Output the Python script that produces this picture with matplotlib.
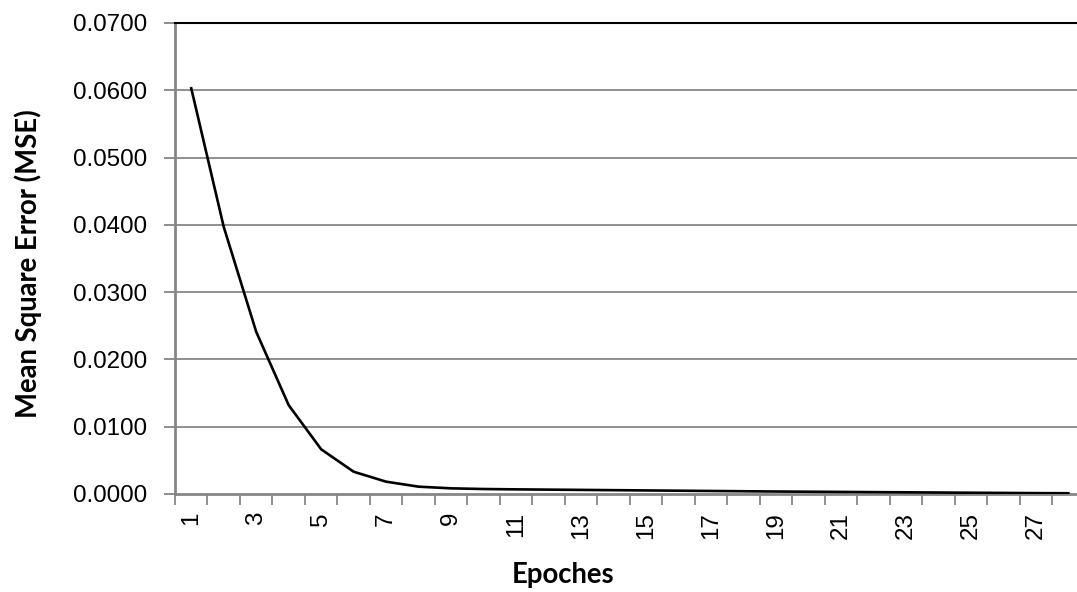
import matplotlib
matplotlib.use("Agg")
import matplotlib.pyplot as plt
from matplotlib.ticker import FuncFormatter, FixedLocator

epochs = list(range(1, 29))
mse = [0.0603, 0.0397, 0.0241, 0.0132, 0.00664, 0.00331, 0.00183, 0.00109, 0.00084, 0.00074,
       0.00069, 0.00065, 0.00061, 0.00057, 0.00053, 0.00049, 0.00045, 0.00041, 0.00037, 0.00034,
       0.00031, 0.00028, 0.00025, 0.00022, 0.00019, 0.00016, 0.00013, 0.00011]
x_tick_labels = [str(e) for e in epochs[::2]]
y_ticks = [0.0, 0.01, 0.02, 0.03, 0.04, 0.05, 0.06, 0.07]

W, H = 1077, 592
fig = plt.figure(figsize=(W / 100, H / 100), dpi=100)
ax = fig.add_axes([175 / W, 1 - 494 / H, (1084.6 - 175) / W, (494 - 23) / H])

tick_font = ["Liberation Sans", "DejaVu Sans"]
grid_c = "#868686"
for yv in y_ticks[1:-1]:
    ax.axhline(yv, color=grid_c, lw=1.3, zorder=1)

ax.plot(epochs, mse, color="black", lw=1.9, zorder=3, solid_joinstyle="miter")

ax.set_xlim(0.5, 28.5)
ax.set_ylim(0, 0.07)
ax.set_yticks(y_ticks)
ax.yaxis.set_major_formatter(FuncFormatter(lambda v, p: f"{v:.4f}"))
ax.tick_params(axis="y", which="major", length=8, width=1.3, color=grid_c,
               labelsize=17.4, pad=12, direction="out")

ax.xaxis.set_major_locator(FixedLocator(epochs[::2]))
ax.set_xticklabels(x_tick_labels, rotation=90)
ax.xaxis.set_minor_locator(FixedLocator([e - 0.5 for e in epochs] + [28.5]))
ax.tick_params(axis="x", which="major", length=0, labelsize=17.4, pad=13)
ax.tick_params(axis="x", which="minor", length=8, width=1.3, color=grid_c, direction="out")
for lbl in ax.get_xticklabels() + ax.get_yticklabels():
    lbl.set_family(tick_font)

for s in ["left", "bottom"]:
    ax.spines[s].set_color(grid_c)
    ax.spines[s].set_linewidth(2)
ax.spines["top"].set_color("black")
ax.spines["top"].set_linewidth(1.5)
ax.spines["right"].set_visible(False)

fig.text(28 / W, 1 - 264 / H, "Mean Square Error (MSE)", rotation=90, ha="center", va="center",
         fontsize=19.8, fontweight="bold", family=["Lato", "DejaVu Sans"])
fig.text(563 / W, 1 - 575 / H, "Epoches", ha="center", va="center",
         fontsize=19.8, fontweight="bold", family=["Lato", "DejaVu Sans"])

fig.savefig("out.png", dpi=100)
